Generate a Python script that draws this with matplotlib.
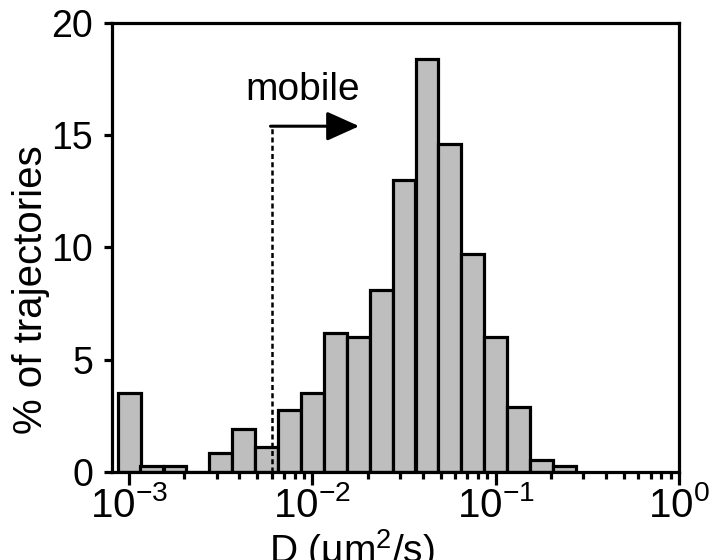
import numpy as np
import matplotlib
matplotlib.use("Agg")
import matplotlib.pyplot as plt
from matplotlib.ticker import FixedLocator, LogFormatterMathtext, NullFormatter

plt.rcParams['font.family'] = ['Liberation Sans', 'DejaVu Sans']
plt.rcParams['mathtext.fontset'] = 'custom'
plt.rcParams['mathtext.rm'] = 'Liberation Sans'
plt.rcParams['mathtext.it'] = 'Liberation Sans:italic'

# bin centres of the histogram (um^2/s), 8 bins per decade
d_centers = [1.00e-3, 1.33e-3, 1.78e-3, 2.37e-3, 3.16e-3, 4.22e-3, 5.62e-3, 7.50e-3,
             1.00e-2, 1.33e-2, 1.78e-2, 2.37e-2, 3.16e-2, 4.22e-2, 5.62e-2, 7.50e-2,
             1.00e-1, 1.33e-1, 1.78e-1, 2.37e-1]
pct_traj = [3.5, 0.27, 0.27, 0.0, 0.82, 1.9, 1.1, 2.75,
            3.5, 6.2, 6.0, 8.1, 13.0, 18.4, 14.6, 9.7,
            6.0, 2.9, 0.5, 0.25]
mobile_cut = 6.0e-3

d_centers = np.array(d_centers)
half = 10 ** (1 / 16)
left_edges = d_centers / half
widths = d_centers * half - left_edges

fig = plt.figure(figsize=(7.13, 5.60), dpi=100)
ax = fig.add_axes([112 / 713, 1 - 471.7 / 560, (679 - 112) / 713, (471.7 - 23) / 560])

ax.bar(left_edges, pct_traj, width=widths, align='edge',
       color='#bebebe', edgecolor='black', linewidth=2.3)

ax.set_xscale('log')
ax.set_xlim(8.07e-4, 1.0)
ax.set_ylim(0, 20)
ax.set_yticks([0, 5, 10, 15, 20])
ax.xaxis.set_major_locator(FixedLocator([1e-3, 1e-2, 1e-1, 1e0]))
ax.xaxis.set_major_formatter(LogFormatterMathtext())
minors = [m * 10.0 ** e for e in (-3, -2, -1) for m in range(2, 10)]
ax.xaxis.set_minor_locator(FixedLocator(minors))
ax.xaxis.set_minor_formatter(NullFormatter())

for s in ax.spines.values():
    s.set_linewidth(2.3)
ax.tick_params(axis='x', which='major', length=9.5, width=2.3, labelsize=29, pad=1)
ax.tick_params(axis='x', which='minor', length=5, width=2.3)
ax.tick_params(axis='y', which='major', length=5.5, width=2.3, labelsize=27, pad=8)

# mobile threshold: dashed drop line + arrow
ax.plot([mobile_cut, mobile_cut], [0, 15.4], color='black', lw=1.8,
        linestyle=(0, (2, 1.3)))
ax.annotate('', xy=(1.8e-2, 15.4), xytext=(mobile_cut * 0.985, 15.4),
            arrowprops=dict(arrowstyle='-|>,head_length=1.0,head_width=0.45',
                            color='black', lw=2.2, mutation_scale=20,
                            shrinkA=0, shrinkB=0))
ax.text(8.9e-3, 17.0, 'mobile', fontsize=28, ha='center', va='center')

fig.text(31 / 713, 1 - 290 / 560, '% of trajectories', rotation=90,
         fontsize=29, ha='center', va='center')
fig.text(352 / 713, 1 - 527 / 560, 'D (\u03bcm$^{2}$/s)', fontsize=28,
         ha='center', va='top')

fig.savefig('out.png', dpi=100)
